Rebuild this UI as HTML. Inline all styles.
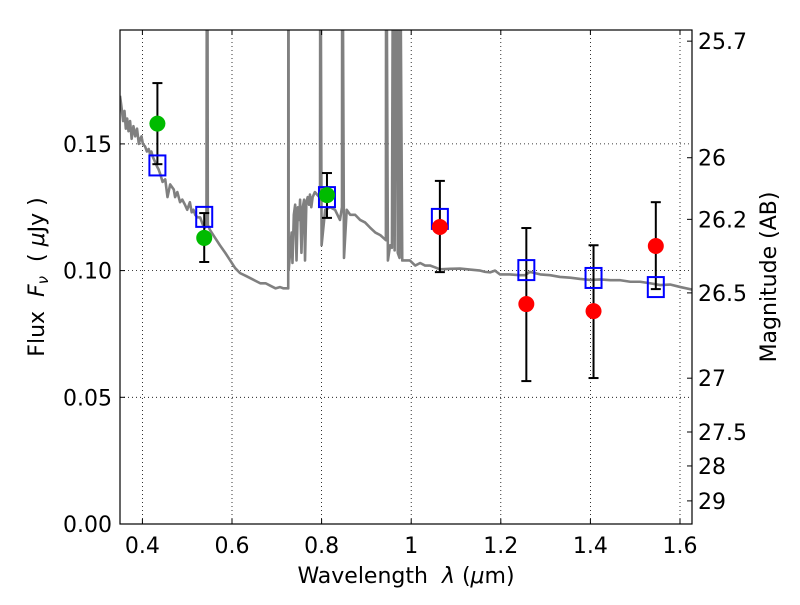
<!DOCTYPE html>
<html><head><meta charset="utf-8"><style>
html,body{margin:0;padding:0;background:#fff;}
svg text{font-family:"DejaVu Sans","Liberation Sans",sans-serif;white-space:pre;}
</style></head><body>
<svg id="chart" width="800" height="600" xmlns="http://www.w3.org/2000/svg" xml:space="preserve">
<defs><clipPath id="clip"><rect x="120" y="30" width="572" height="494"/></clipPath></defs>
<rect x="0" y="0" width="800" height="600" fill="#fff"/>
<g id="grid"></g>
<g id="spec" clip-path="url(#clip)"></g>
<g id="marks" clip-path="url(#clip)"></g>
<rect x="120" y="30" width="572" height="494" fill="none" stroke="#000" stroke-width="1.2"/>
<g id="axes"></g>
<text x="406" y="583" font-size="22" text-anchor="middle">Wavelength  <tspan font-style="italic">λ</tspan> (<tspan font-style="italic">μ</tspan>m)</text>
<text transform="translate(44,277) rotate(-90)" font-size="22" text-anchor="middle">Flux  <tspan font-style="italic">F<tspan font-size="15" dy="4">ν</tspan></tspan><tspan dy="-4">  ( </tspan><tspan font-style="italic">μ</tspan>Jy )</text>
<text transform="translate(776,277) rotate(-90)" font-size="22" text-anchor="middle">Magnitude (AB)</text>
</svg>
<script>
const xTicks=[0.4,0.6,0.8,1.0,1.2,1.4,1.6];
const xTickLabels=["0.4","0.6","0.8","1","1.2","1.4","1.6"];
const yTicks=[0,0.05,0.10,0.15];
const yTickLabels=["0.00","0.05","0.10","0.15"];
const magTicks=[25.7,26,26.2,26.5,27,27.5,28,29];
const magTickLabels=["25.7","26","26.2","26.5","27","27.5","28","29"];
const obsWave=[0.4335,0.538,0.812,1.064,1.257,1.407,1.546];
const obsFlux=[0.158,0.1129,0.1298,0.1172,0.0868,0.084,0.1097];
const obsErrHi=[0.174,0.1227,0.1385,0.1354,0.1168,0.110,0.127];
const obsErrLo=[0.142,0.1034,0.1208,0.0994,0.0564,0.0576,0.0927];
const obsColor=["#00bb00","#00bb00","#00bb00","#ff0000","#ff0000","#ff0000","#ff0000"];
const modelFlux=[0.1415,0.1212,0.129,0.1204,0.1002,0.0971,0.0935];
const specWave=[
0.350,0.353,0.357,0.360,0.363,0.366,0.369,0.3725,0.376,0.380,
0.384,0.388,0.392,0.395,0.398,0.401,0.406,0.410,0.414,0.417,
0.420,0.423,0.428,0.433,0.436,0.440,0.445,0.451,0.456,0.462,
0.466,0.470,0.473,0.478,0.484,0.489,0.495,0.500,0.506,0.510,
0.514,0.518,0.523,0.529,0.535,0.540,0.543,0.544,0.545,0.546,
0.551,0.562,0.573,0.585,0.596,0.607,0.618,0.630,0.641,0.652,
0.663,0.675,0.686,0.697,0.707,0.715,0.723,0.7255,0.7258,0.7262,
0.7265,0.730,0.733,0.735,0.738,0.741,0.744,0.747,0.750,0.752,
0.755,0.758,0.761,0.763,0.766,0.769,0.772,0.774,0.777,0.780,
0.785,0.790,0.795,0.7965,0.797,0.7975,0.800,0.808,0.819,0.830,
0.841,0.8455,0.846,0.8465,0.850,0.856,0.864,0.875,0.886,0.897,
0.908,0.920,0.931,0.9435,0.944,0.9445,0.948,0.953,0.957,0.9595,
0.9605,0.963,0.9665,0.9675,0.970,0.974,0.9745,0.975,0.980,0.997,
1.009,1.020,1.031,1.042,1.053,1.064,1.087,1.109,1.131,1.154,
1.165,1.176,1.187,1.198,1.220,1.243,1.254,1.265,1.276,1.288,
1.310,1.332,1.355,1.377,1.400,1.422,1.445,1.467,1.489,1.511,
1.533,1.556,1.578,1.601,1.627];
const specFlux=[
0.169,0.165,0.159,0.163,0.156,0.160,0.155,0.159,0.152,0.157,
0.153,0.156,0.150,0.152,0.153,0.150,0.149,0.147,0.148,0.146,
0.147,0.145,0.143,0.141,0.140,0.138,0.135,0.136,0.129,0.134,
0.133,0.132,0.129,0.131,0.127,0.128,0.126,0.124,0.127,0.123,
0.124,0.122,0.121,0.121,0.118,0.117,0.121,0.25,0.25,0.118,
0.116,0.113,0.110,0.107,0.104,0.101,0.099,0.098,0.097,0.096,
0.095,0.095,0.094,0.093,0.0935,0.093,0.093,0.093,0.25,0.25,
0.100,0.108,0.115,0.103,0.122,0.126,0.104,0.125,0.120,0.128,
0.107,0.125,0.128,0.104,0.127,0.129,0.126,0.130,0.125,0.129,
0.131,0.130,0.129,0.128,0.25,0.25,0.110,0.124,0.125,0.124,
0.120,0.125,0.25,0.25,0.105,0.124,0.122,0.122,0.120,0.119,
0.117,0.115,0.114,0.112,0.25,0.25,0.104,0.110,0.109,0.25,
0.25,0.108,0.25,0.25,0.107,0.105,0.25,0.25,0.104,0.104,
0.102,0.103,0.102,0.102,0.1013,0.1005,0.1007,0.1008,0.1004,0.100,
0.0995,0.0993,0.1000,0.0985,0.0985,0.0982,0.0982,0.0995,0.099,0.0985,
0.0982,0.0975,0.0972,0.0967,0.0963,0.0965,0.0962,0.0962,0.0956,0.0956,
0.0950,0.0943,0.0945,0.0935,0.0925];

const X=v=>120+(v-0.35)*448;
const Y=v=>524-v*2534;
const M=m=>Y(Math.pow(10,(23.9-m)/2.5));
const NS="http://www.w3.org/2000/svg";
function mk(parent,tag,attrs,text){const e=document.createElementNS(NS,tag);for(const k in attrs)e.setAttribute(k,attrs[k]);if(text!==undefined)e.textContent=text;parent.appendChild(e);return e;}
const grid=document.getElementById('grid'),axes=document.getElementById('axes');
xTicks.forEach((t,i)=>{
  const gl=mk(grid,'line',{x1:X(t),x2:X(t),y1:30,y2:524,stroke:'#000','stroke-width':0.8,'stroke-dasharray':'1,3'});
  
  
  mk(axes,'line',{x1:X(t),x2:X(t),y1:524,y2:519,stroke:'#000'});
  mk(axes,'line',{x1:X(t),x2:X(t),y1:30,y2:35,stroke:'#000'});
  const tl=mk(axes,'text',{x:X(t),y:553,'font-size':22,'text-anchor':'middle'},xTickLabels[i]);
  
  
});
yTicks.forEach((t,i)=>{
  const gl=mk(grid,'line',{x1:120,x2:692,y1:Y(t),y2:Y(t),stroke:'#000','stroke-width':0.8,'stroke-dasharray':'1,3'});
  
  
  mk(axes,'line',{x1:120,x2:125,y1:Y(t),y2:Y(t),stroke:'#000'});
  const tl=mk(axes,'text',{x:112,y:Y(t)+8,'font-size':22,'text-anchor':'end'},yTickLabels[i]);
  
  
});
magTicks.forEach((m,i)=>{
  const y=M(m);
  mk(axes,'line',{x1:687,x2:692,y1:y,y2:y,stroke:'#000'});
  const tl=mk(axes,'text',{x:698,y:y+8,'font-size':22},magTickLabels[i]);
  
  
});
const spec=document.getElementById('spec');
const pl=mk(spec,'polyline',{points:specWave.map((w,i)=>X(w)+','+Y(specFlux[i])).join(' '),fill:'none',stroke:'#808080','stroke-width':2.6,'stroke-linejoin':'round'});


const marks=document.getElementById('marks');
obsWave.forEach((w,i)=>{
  const x=X(w);
  const e=mk(marks,'g',{});
  
  
  mk(e,'line',{x1:x,x2:x,y1:Y(obsErrHi[i]),y2:Y(obsErrLo[i]),stroke:'#000','stroke-width':2});
  mk(e,'line',{x1:x-5,x2:x+5,y1:Y(obsErrHi[i]),y2:Y(obsErrHi[i]),stroke:'#000','stroke-width':2});
  mk(e,'line',{x1:x-5,x2:x+5,y1:Y(obsErrLo[i]),y2:Y(obsErrLo[i]),stroke:'#000','stroke-width':2});
});
obsWave.forEach((w,i)=>{
  const sq=mk(marks,'rect',{x:X(w)-8,y:Y(modelFlux[i])-10,width:16,height:20,fill:'none',stroke:'#0000ff','stroke-width':2});
  
  
});
obsWave.forEach((w,i)=>{
  const c=mk(marks,'circle',{cx:X(w),cy:Y(obsFlux[i]),r:8,fill:obsColor[i]});
  
  
});
</script>
</body></html>
